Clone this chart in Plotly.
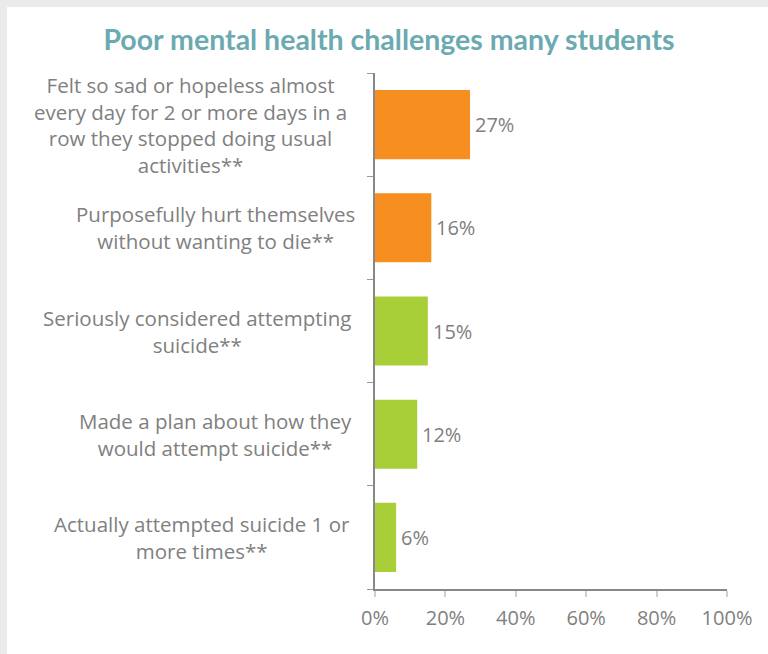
import plotly.graph_objects as go

categories = [
    "Felt so sad or hopeless almost<br>every day for 2 or more days in a<br>row they stopped doing usual<br>activities**",
    "Purposefully hurt themselves<br>without wanting to die**",
    "Seriously considered attempting<br>suicide**",
    "Made a plan about how they<br>would attempt suicide**",
    "Actually attempted suicide 1 or<br>more times**",
]
values = [27, 16, 15, 12, 6]
bar_colors = ["#F68E20", "#F68E20", "#A9CF38", "#A9CF38", "#A9CF38"]
x_ticks = [0, 20, 40, 60, 80, 100]
x_tick_labels = [f"{v}%" for v in x_ticks]
title_text = "Poor mental health challenges many students"

W, H = 768, 654
ML, MR, MT, MB = 375, 41, 73, 65
PW, PH = W - ML - MR, H - MT - MB

FONT = "Open Sans"
GRAY = "#808080"
FS = 20
FS_CAT = 20.5

fig = go.Figure(
    go.Bar(
        x=values,
        y=list(range(len(categories))),
        orientation="h",
        marker=dict(color=bar_colors, line=dict(width=0)),
        width=0.67,
        hoverinfo="skip",
    )
)

annotations = []
# value labels
for i, v in enumerate(values):
    annotations.append(
        dict(x=v, y=i, xref="x", yref="y", text=f"{v}%", showarrow=False,
             xanchor="left", yanchor="middle", xshift=3,
             font=dict(family=FONT, size=FS, color=GRAY))
    )

# category labels as centered multi-line blocks
centers = [190, 215, 197, 215, 202]
for i, lab in enumerate(categories):
    annotations.append(
        dict(
            x=(centers[i] - ML) / PW,
            xref="paper",
            y=i,
            yref="y",
            text=lab,
            showarrow=False,
            xanchor="center",
            yanchor="middle",
            align="center",
            font=dict(family=FONT, size=FS_CAT, color=GRAY),
        )
    )

shapes = [
    dict(type="rect", xref="paper", yref="paper",
         x0=(0 - ML) / PW, x1=(W - ML) / PW, y0=1 + (MT - 7) / PH, y1=1 + MT / PH,
         fillcolor="#EBEBEB", line=dict(width=0), layer="below"),
    dict(type="rect", xref="paper", yref="paper",
         x0=(0 - ML) / PW, x1=(7 - ML) / PW, y0=-MB / PH, y1=1 + MT / PH,
         fillcolor="#EBEBEB", line=dict(width=0), layer="below"),
]

fig.update_layout(
    width=W,
    height=H,
    margin=dict(l=ML, r=MR, t=MT, b=MB),
    paper_bgcolor="white",
    plot_bgcolor="white",
    showlegend=False,
    title=dict(
        text=title_text,
        x=389 / W,
        xanchor="center",
        xref="container",
        y=1 - 40 / H,
        yanchor="middle",
        yref="container",
        font=dict(family="Lato", size=28.5, color="#6BAAB0", weight="bold"),
    ),
    annotations=annotations,
    shapes=shapes,
    bargap=0.33,
)

fig.update_xaxes(
    range=[0, 100],
    tickvals=x_ticks,
    ticktext=x_tick_labels,
    showgrid=False,
    zeroline=False,
    showline=True,
    linecolor="#888888",
    linewidth=1.5,
    ticks="outside",
    ticklen=6,
    tickwidth=2,
    tickcolor="#D0D0D0",
    ticklabelstandoff=4,
    tickfont=dict(family=FONT, size=FS, color=GRAY),
    fixedrange=True,
)
fig.update_yaxes(
    type="linear",
    range=[len(categories) - 0.5, -0.5],
    tickvals=[i - 0.5 for i in range(len(categories) + 1)],
    showticklabels=False,
    showgrid=False,
    zeroline=False,
    showline=True,
    linecolor="#888888",
    linewidth=1.5,
    ticks="outside",
    ticklen=6,
    tickwidth=1,
    tickcolor="#999999",
    fixedrange=True,
)

fig.write_html(
    "out.html",
    config={"displayModeBar": False},
    post_script="document.body.style.margin='0';document.body.style.overflow='hidden';document.documentElement.style.overflow='hidden';",
)
